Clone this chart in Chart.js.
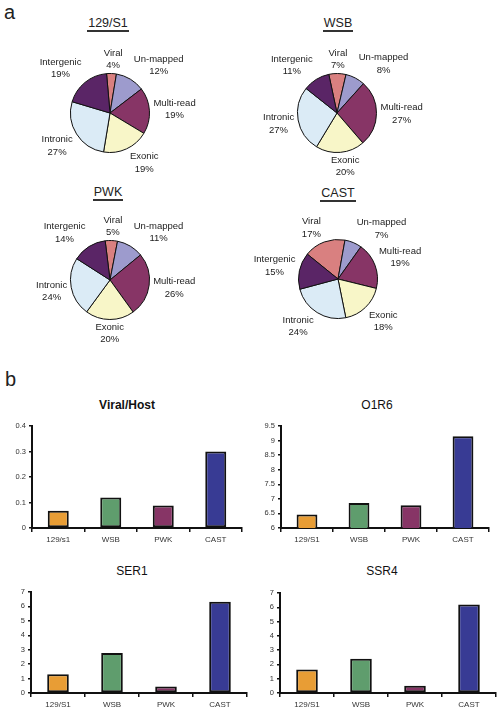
<!DOCTYPE html>
<html>
<head>
<meta charset="utf-8">
<script src="https://cdn.jsdelivr.net/npm/chart.js@4.4.1/dist/chart.umd.min.js"></script>
<style>
  html, body { margin: 0; padding: 0; background: #fff; }
  body { width: 500px; height: 716px; position: relative; overflow: hidden; font-family: "Liberation Sans", Arial, sans-serif; color: #222; }
  .cv { position: absolute; }
  .panel { position: absolute; font-size: 20px; color: #222; }
  .ptitle { position: absolute; width: 80px; text-align: center; font-size: 12.5px; color: #222; }
  .ptitle span { display: inline-block; border-bottom: 2.5px solid #333; padding: 0 1px 0px 1px; line-height: 13px; }
  .btitle { position: absolute; width: 120px; text-align: center; font-size: 12px; color: #111; }
</style>
</head>
<body>
<div class="panel" style="left:4px; top:1px;">a</div>
<div class="panel" style="left:5px; top:368px;">b</div>

<div class="ptitle" style="left:68px; top:16px;"><span>129/S1</span></div>
<div class="ptitle" style="left:298px; top:16px;"><span>WSB</span></div>
<div class="ptitle" style="left:68px; top:185px;"><span>PWK</span></div>
<div class="ptitle" style="left:298px; top:186px;"><span>CAST</span></div>

<div class="btitle" style="left:67px; top:398px; font-weight:bold;">Viral/Host</div>
<div class="btitle" style="left:317px; top:398px;">O1R6</div>
<div class="btitle" style="left:72px; top:564px;">SER1</div>
<div class="btitle" style="left:322px; top:564px;">SSR4</div>

<canvas id="p1" class="cv" width="250" height="150" style="left:0px; top:35px;"></canvas>
<canvas id="p2" class="cv" width="250" height="150" style="left:250px; top:35px;"></canvas>
<canvas id="p3" class="cv" width="250" height="150" style="left:0px; top:205px;"></canvas>
<canvas id="p4" class="cv" width="250" height="150" style="left:250px; top:205px;"></canvas>

<canvas id="b1" class="cv" width="250" height="134" style="left:0px; top:416px;"></canvas>
<canvas id="b2" class="cv" width="250" height="134" style="left:250px; top:416px;"></canvas>
<canvas id="b3" class="cv" width="250" height="134" style="left:0px; top:582px;"></canvas>
<canvas id="b4" class="cv" width="250" height="134" style="left:250px; top:582px;"></canvas>

<script>
// ---------- DATA ----------
const pieCategories = ["Viral", "Un-mapped", "Multi-read", "Exonic", "Intronic", "Intergenic"];
const pie129S1 = [4, 12, 19, 19, 27, 19];
const pieWSB   = [7, 8, 27, 20, 27, 11];
const piePWK   = [5, 11, 26, 20, 24, 14];
const pieCAST  = [17, 7, 19, 18, 24, 15];

const strains129 = ["129/s1", "WSB", "PWK", "CAST"];
const strains    = ["129/S1", "WSB", "PWK", "CAST"];
const viralHost  = [0.068, 0.12, 0.088, 0.30];
const o1r6       = [6.46, 6.86, 6.78, 9.15];
const ser1       = [1.3, 2.78, 0.45, 6.32];
const ssr4       = [1.65, 2.4, 0.5, 6.2];

// ---------- STYLE ----------
const pieColors = ["#d98080", "#9d9bcd", "#873566", "#f8f6c8", "#dbebf6", "#5a2566"];
const barColors = ["#e89d35", "#5f9d6d", "#873566", "#383b94"];
const FONT = "'Liberation Sans', Arial, sans-serif";

Chart.defaults.font.family = FONT;
Chart.defaults.animation = false;

function clamp1(v) { return Math.max(-1, Math.min(1, v)); }

const pieLabelPlugin = {
  id: 'pieLabels',
  afterDatasetsDraw(chart) {
    const ctx = chart.ctx;
    const meta = chart.getDatasetMeta(0);
    const data = chart.data.datasets[0].data;
    ctx.save();
    ctx.font = "9.5px " + FONT;
    ctx.fillStyle = "#222";
    ctx.textAlign = "center";
    ctx.textBaseline = "middle";
    const lh = 12.5;
    meta.data.forEach((arc, i) => {
      const p = arc.getProps(['x', 'y', 'startAngle', 'endAngle', 'outerRadius'], true);
      const mid = (p.startAngle + p.endAngle) / 2;
      const c = Math.cos(mid), s = Math.sin(mid);
      const l1 = chart.data.labels[i];
      const l2 = data[i] + "%";
      const halfW = Math.max(ctx.measureText(l1).width, ctx.measureText(l2).width) / 2;
      const halfH = 13;
      const ax = p.x + c * (p.outerRadius + 1);
      const ay = p.y + s * (p.outerRadius + 1);
      const x = ax + clamp1(c / 0.3) * (halfW + 3);
      const y = ay + clamp1(s / 0.6) * halfH;
      ctx.fillText(l1, x, y - lh / 2);
      ctx.fillText(l2, x, y + lh / 2);
    });
    ctx.restore();
  }
};

function makePie(id, values, rotation, pad) {
  new Chart(document.getElementById(id), {
    type: 'pie',
    data: {
      labels: pieCategories,
      datasets: [{ data: values, backgroundColor: pieColors, borderColor: "#111", borderWidth: 1 }]
    },
    options: {
      responsive: false,
      rotation: rotation,
      layout: { padding: pad },
      events: [],
      plugins: { legend: { display: false }, tooltip: { enabled: false }, title: { display: false } }
    },
    plugins: [pieLabelPlugin]
  });
}

makePie('p1', pie129S1, -5,  { left: 70, right: 100, top: 38, bottom: 32 });
makePie('p2', pieWSB,   -12, { left: 47, right: 123, top: 38, bottom: 32 });
makePie('p3', piePWK,   -7,  { left: 70, right: 100, top: 35, bottom: 35 });
makePie('p4', pieCAST,  -51, { left: 48, right: 122, top: 34, bottom: 36 });

function makeBar(id, labels, values, min, max, step, yWidth, pad) {
  new Chart(document.getElementById(id), {
    type: 'bar',
    data: {
      labels: labels,
      datasets: [{
        data: values,
        backgroundColor: barColors,
        borderColor: "#111",
        borderWidth: 2,
        borderSkipped: false,
        barPercentage: 0.8,
        categoryPercentage: 0.5
      }]
    },
    options: {
      responsive: false,
      events: [],
      layout: { padding: { left: pad.left, right: pad.right, top: pad.top, bottom: pad.bottom } },
      plugins: { legend: { display: false }, tooltip: { enabled: false } },
      scales: {
        x: {
          offset: true,
          grid: { offset: true, drawOnChartArea: false, drawTicks: true, tickLength: 4, color: "#111", lineWidth: 1.5 },
          border: { display: true, color: "#111", width: 2 },
          ticks: { color: "#333", font: { size: 8 }, padding: 3, maxRotation: 0, autoSkip: false },
          afterFit(scale) { scale.height = pad.xh; }
        },
        y: {
          min: min, max: max,
          grid: { drawOnChartArea: false, drawTicks: true, tickLength: 3, color: "#111", lineWidth: 1.5 },
          border: { display: true, color: "#111", width: 2 },
          ticks: {
            stepSize: step, color: "#333", font: { size: 7.5 }, padding: 3,
            callback: (v) => String(Math.round(v * 100) / 100)
          },
          afterFit(scale) { scale.width = yWidth; }
        }
      }
    }
  });
}

makeBar('b1', strains129, viralHost, 0, 0.4, 0.1, 32, { left: 0, right: 8, top: 10, bottom: 0, xh: 22 });
makeBar('b2', strains,    o1r6,      6, 9.5, 0.5, 31, { left: 0, right: 11, top: 10, bottom: 0, xh: 22 });
makeBar('b3', strains,    ser1,      0, 7,   1,   31, { left: 0, right: 3, top: 10, bottom: 0, xh: 23 });
makeBar('b4', strains,    ssr4,      0, 7,   1,   30, { left: 0, right: 4, top: 11, bottom: 0, xh: 23 });
</script>
</body>
</html>
